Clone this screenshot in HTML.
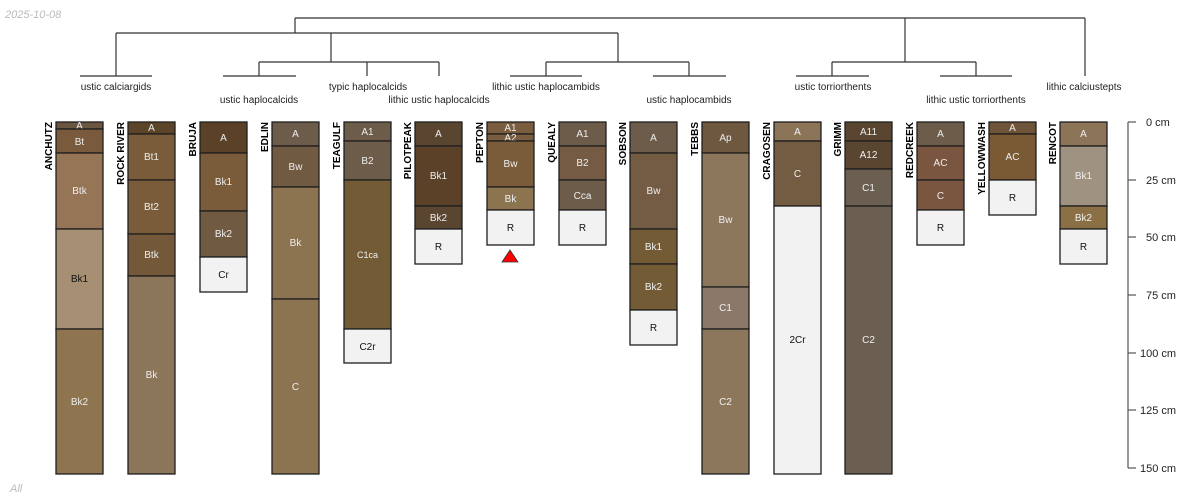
<!DOCTYPE html>
<html><head><meta charset="utf-8"><style>
html,body{margin:0;padding:0;background:#fff;width:1200px;height:500px;overflow:hidden}
svg{display:block;font-family:"Liberation Sans",sans-serif}
.h rect{stroke:#1e1e1e;stroke-width:1.3}
.h text{font-size:10px;text-anchor:middle;fill:#eeeeee}
.h text.d{fill:#111}
.n{font-size:10px;font-weight:bold;text-anchor:end;fill:#000}
.t{font-size:10px;text-anchor:middle;fill:#222}
.dg line{stroke:#333;stroke-width:1.2}
</style></head><body>
<svg width="1200" height="500" viewBox="0 0 1200 500">
<text x="5" y="18" font-size="11" font-style="italic" fill="#bbb">2025-10-08</text>
<text x="10" y="492" font-size="11" font-style="italic" fill="#bbb">All</text>

<g class="dg">
<line x1="295" y1="18" x2="1085" y2="18"/>
<line x1="295" y1="18" x2="295" y2="33"/>
<line x1="116" y1="33" x2="618" y2="33"/>
<line x1="116" y1="33" x2="116" y2="76"/>
<line x1="80" y1="76" x2="152" y2="76"/>
<line x1="331" y1="33" x2="331" y2="62"/>
<line x1="259" y1="62" x2="439" y2="62"/>
<line x1="259" y1="62" x2="259" y2="76"/>
<line x1="223" y1="76" x2="296" y2="76"/>
<line x1="367" y1="62" x2="367" y2="76"/>
<line x1="439" y1="62" x2="439" y2="76"/>
<line x1="618" y1="33" x2="618" y2="62"/>
<line x1="546" y1="62" x2="689" y2="62"/>
<line x1="546" y1="62" x2="546" y2="76"/>
<line x1="510" y1="76" x2="582" y2="76"/>
<line x1="689" y1="62" x2="689" y2="76"/>
<line x1="653" y1="76" x2="726" y2="76"/>
<line x1="905" y1="18" x2="905" y2="62"/>
<line x1="832" y1="62" x2="976" y2="62"/>
<line x1="832" y1="62" x2="832" y2="76"/>
<line x1="796" y1="76" x2="869" y2="76"/>
<line x1="976" y1="62" x2="976" y2="76"/>
<line x1="940" y1="76" x2="1012" y2="76"/>
<line x1="1085" y1="18" x2="1085" y2="76"/>
</g>
<text class="t" x="116" y="90">ustic calciargids</text>
<text class="t" x="259" y="103">ustic haplocalcids</text>
<text class="t" x="368" y="90">typic haplocalcids</text>
<text class="t" x="439" y="103">lithic ustic haplocalcids</text>
<text class="t" x="546" y="90">lithic ustic haplocambids</text>
<text class="t" x="689" y="103">ustic haplocambids</text>
<text class="t" x="833" y="90">ustic torriorthents</text>
<text class="t" x="976" y="103">lithic ustic torriorthents</text>
<text class="t" x="1084" y="90">lithic calciustepts</text>

<g class="h">
<rect x="56" y="122" width="47" height="7" fill="#6b5642"/><text x="79.5" y="129">A</text>
<rect x="56" y="129" width="47" height="24" fill="#7a5a3d"/><text x="79.5" y="145">Bt</text>
<rect x="56" y="153" width="47" height="76" fill="#967556"/><text x="79.5" y="194">Btk</text>
<rect x="56" y="229" width="47" height="100" fill="#a68f72"/><text class="d" x="79.5" y="282">Bk1</text>
<rect x="56" y="329" width="47" height="145" fill="#8f7450"/><text x="79.5" y="405">Bk2</text>
<rect x="128" y="122" width="47" height="12" fill="#5c4428"/><text x="151.5" y="131">A</text>
<rect x="128" y="134" width="47" height="46" fill="#7a5c3a"/><text x="151.5" y="160">Bt1</text>
<rect x="128" y="180" width="47" height="54" fill="#7a5c3a"/><text x="151.5" y="210">Bt2</text>
<rect x="128" y="234" width="47" height="42" fill="#74583a"/><text x="151.5" y="258">Btk</text>
<rect x="128" y="276" width="47" height="198" fill="#8c765a"/><text x="151.5" y="378">Bk</text>
<rect x="200" y="122" width="47" height="31" fill="#5a4128"/><text x="223.5" y="141">A</text>
<rect x="200" y="153" width="47" height="58" fill="#7a5c3a"/><text x="223.5" y="185">Bk1</text>
<rect x="200" y="211" width="47" height="46" fill="#705a42"/><text x="223.5" y="237">Bk2</text>
<rect x="200" y="257" width="47" height="35" fill="#f2f2f2"/><text class="d" x="223.5" y="278">Cr</text>
<rect x="272" y="122" width="47" height="24" fill="#6e5c4b"/><text x="295.5" y="137">A</text>
<rect x="272" y="146" width="47" height="41" fill="#705a42"/><text x="295.5" y="170">Bw</text>
<rect x="272" y="187" width="47" height="112" fill="#8c7450"/><text x="295.5" y="246">Bk</text>
<rect x="272" y="299" width="47" height="175" fill="#8c7450"/><text x="295.5" y="390">C</text>
<rect x="344" y="122" width="47" height="19" fill="#6e5c4b"/><text x="367.5" y="135">A1</text>
<rect x="344" y="141" width="47" height="39" fill="#6e5c4b"/><text x="367.5" y="164">B2</text>
<rect x="344" y="180" width="47" height="149" fill="#735c35"/><text x="367.5" y="258" style="font-size:9px">C1ca</text>
<rect x="344" y="329" width="47" height="34" fill="#f2f2f2"/><text class="d" x="367.5" y="350">C2r</text>
<rect x="415" y="122" width="47" height="24" fill="#5a4530"/><text x="438.5" y="137">A</text>
<rect x="415" y="146" width="47" height="60" fill="#5a4128"/><text x="438.5" y="179">Bk1</text>
<rect x="415" y="206" width="47" height="23" fill="#5a4530"/><text x="438.5" y="221">Bk2</text>
<rect x="415" y="229" width="47" height="35" fill="#f2f2f2"/><text class="d" x="438.5" y="250">R</text>
<rect x="487" y="122" width="47" height="12" fill="#7a5c3e"/><text x="510.5" y="131">A1</text>
<rect x="487" y="134" width="47" height="7" fill="#7a5c3e"/><text x="510.5" y="141">A2</text>
<rect x="487" y="141" width="47" height="46" fill="#7a5c3a"/><text x="510.5" y="167">Bw</text>
<rect x="487" y="187" width="47" height="23" fill="#8c7450"/><text x="510.5" y="202">Bk</text>
<rect x="487" y="210" width="47" height="35" fill="#f2f2f2"/><text class="d" x="510.5" y="231">R</text>
<rect x="559" y="122" width="47" height="24" fill="#6e5c4b"/><text x="582.5" y="137">A1</text>
<rect x="559" y="146" width="47" height="34" fill="#755a44"/><text x="582.5" y="166">B2</text>
<rect x="559" y="180" width="47" height="30" fill="#6e5c4b"/><text x="582.5" y="199">Cca</text>
<rect x="559" y="210" width="47" height="35" fill="#f2f2f2"/><text class="d" x="582.5" y="231">R</text>
<rect x="630" y="122" width="47" height="31" fill="#6e5c4b"/><text x="653.5" y="141">A</text>
<rect x="630" y="153" width="47" height="76" fill="#735c43"/><text x="653.5" y="194">Bw</text>
<rect x="630" y="229" width="47" height="35" fill="#735c35"/><text x="653.5" y="250">Bk1</text>
<rect x="630" y="264" width="47" height="46" fill="#735c35"/><text x="653.5" y="290">Bk2</text>
<rect x="630" y="310" width="47" height="35" fill="#f2f2f2"/><text class="d" x="653.5" y="331">R</text>
<rect x="702" y="122" width="47" height="31" fill="#6e5840"/><text x="725.5" y="141">Ap</text>
<rect x="702" y="153" width="47" height="134" fill="#8c775c"/><text x="725.5" y="223">Bw</text>
<rect x="702" y="287" width="47" height="42" fill="#8c7868"/><text x="725.5" y="311">C1</text>
<rect x="702" y="329" width="47" height="145" fill="#8c775c"/><text x="725.5" y="405">C2</text>
<rect x="774" y="122" width="47" height="19" fill="#8c7458"/><text x="797.5" y="135">A</text>
<rect x="774" y="141" width="47" height="65" fill="#735c42"/><text x="797.5" y="177">C</text>
<rect x="774" y="206" width="47" height="268" fill="#f2f2f2"/><text class="d" x="797.5" y="343">2Cr</text>
<rect x="845" y="122" width="47" height="19" fill="#5a4530"/><text x="868.5" y="135">A11</text>
<rect x="845" y="141" width="47" height="28" fill="#5a4530"/><text x="868.5" y="158">A12</text>
<rect x="845" y="169" width="47" height="37" fill="#6b5f52"/><text x="868.5" y="191">C1</text>
<rect x="845" y="206" width="47" height="268" fill="#6b5f52"/><text x="868.5" y="343">C2</text>
<rect x="917" y="122" width="47" height="24" fill="#6e5c4b"/><text x="940.5" y="137">A</text>
<rect x="917" y="146" width="47" height="34" fill="#7a5540"/><text x="940.5" y="166">AC</text>
<rect x="917" y="180" width="47" height="30" fill="#7a5540"/><text x="940.5" y="199">C</text>
<rect x="917" y="210" width="47" height="35" fill="#f2f2f2"/><text class="d" x="940.5" y="231">R</text>
<rect x="989" y="122" width="47" height="12" fill="#6e5438"/><text x="1012.5" y="131">A</text>
<rect x="989" y="134" width="47" height="46" fill="#7a5a35"/><text x="1012.5" y="160">AC</text>
<rect x="989" y="180" width="47" height="35" fill="#f2f2f2"/><text class="d" x="1012.5" y="201">R</text>
<rect x="1060" y="122" width="47" height="24" fill="#8c7458"/><text x="1083.5" y="137">A</text>
<rect x="1060" y="146" width="47" height="60" fill="#a09280"/><text x="1083.5" y="179">Bk1</text>
<rect x="1060" y="206" width="47" height="23" fill="#8c7045"/><text x="1083.5" y="221">Bk2</text>
<rect x="1060" y="229" width="47" height="35" fill="#f2f2f2"/><text class="d" x="1083.5" y="250">R</text>
</g>

<polygon points="510,250 502,262 518,262" fill="#ff0000" stroke="#333" stroke-width="0.8"/>

<g class="n">
<text transform="translate(52,122) rotate(-90)">ANCHUTZ</text>
<text transform="translate(124,122) rotate(-90)">ROCK RIVER</text>
<text transform="translate(196,122) rotate(-90)">BRUJA</text>
<text transform="translate(268,122) rotate(-90)">EDLIN</text>
<text transform="translate(340,122) rotate(-90)">TEAGULF</text>
<text transform="translate(411,122) rotate(-90)">PILOTPEAK</text>
<text transform="translate(483,122) rotate(-90)">PEPTON</text>
<text transform="translate(555,122) rotate(-90)">QUEALY</text>
<text transform="translate(626,122) rotate(-90)">SOBSON</text>
<text transform="translate(698,122) rotate(-90)">TEBBS</text>
<text transform="translate(770,122) rotate(-90)">CRAGOSEN</text>
<text transform="translate(841,122) rotate(-90)">GRIMM</text>
<text transform="translate(913,122) rotate(-90)">REDCREEK</text>
<text transform="translate(985,122) rotate(-90)">YELLOWWASH</text>
<text transform="translate(1056,122) rotate(-90)">RENCOT</text>
</g>

<g stroke="#555" stroke-width="1.2">
<line x1="1128" y1="122" x2="1128" y2="468"/>
<line x1="1128" y1="122" x2="1136" y2="122"/>
<line x1="1128" y1="180" x2="1136" y2="180"/>
<line x1="1128" y1="237" x2="1136" y2="237"/>
<line x1="1128" y1="295" x2="1136" y2="295"/>
<line x1="1128" y1="353" x2="1136" y2="353"/>
<line x1="1128" y1="410" x2="1136" y2="410"/>
<line x1="1128" y1="468" x2="1136" y2="468"/>
</g>
<g font-size="11" fill="#222">
<text x="1146" y="126">0 cm</text>
<text x="1146" y="184">25 cm</text>
<text x="1146" y="241">50 cm</text>
<text x="1146" y="299">75 cm</text>
<text x="1140" y="357">100 cm</text>
<text x="1140" y="414">125 cm</text>
<text x="1140" y="472">150 cm</text>
</g>
</svg>
</body></html>
